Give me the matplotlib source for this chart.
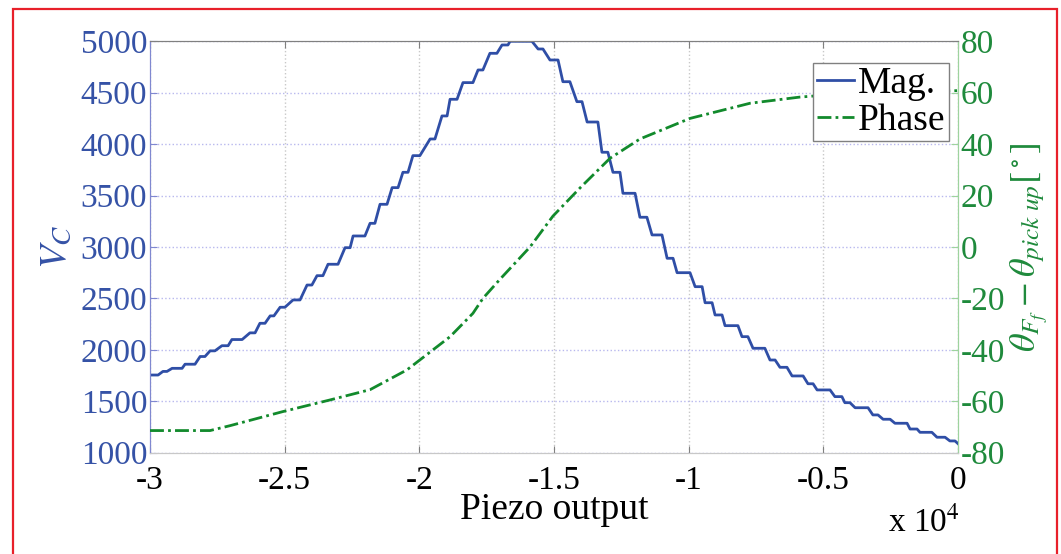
import matplotlib
matplotlib.use("Agg")
from matplotlib import pyplot as plt
from matplotlib.patches import Rectangle
import numpy as np

# magnitude: staircase plateaus (start, end in units of 1e4, level)
mag_start = [-3.000, -2.952, -2.918, -2.870, -2.814, -2.777, -2.733, -2.696, -2.629, -2.592,
             -2.554, -2.517, -2.469, -2.417, -2.380, -2.339, -2.276, -2.246, -2.183, -2.146,
             -2.101, -2.061, -2.024, -1.960, -1.916, -1.886, -1.838, -1.782, -1.738, -1.693,
             -1.663, -1.559, -1.515, -1.467, -1.415, -1.377, -1.322, -1.281, -1.244, -1.181,
             -1.136, -1.080, -1.043, -0.976, -0.939, -0.902, -0.865, -0.802, -0.761, -0.698,
             -0.661, -0.616, -0.557, -0.523, -0.457, -0.420, -0.382, -0.316, -0.278, -0.234,
             -0.178, -0.141, -0.078, -0.030]
mag_end = [-2.970, -2.937, -2.881, -2.833, -2.796, -2.759, -2.710, -2.658, -2.610, -2.573,
           -2.540, -2.499, -2.443, -2.399, -2.358, -2.302, -2.257, -2.202, -2.165, -2.120,
           -2.079, -2.042, -1.998, -1.942, -1.897, -1.860, -1.801, -1.764, -1.712, -1.671,
           -1.582, -1.541, -1.485, -1.441, -1.396, -1.337, -1.300, -1.255, -1.199, -1.155,
           -1.099, -1.058, -0.995, -0.950, -0.913, -0.876, -0.817, -0.780, -0.717, -0.679,
           -0.635, -0.575, -0.538, -0.475, -0.431, -0.401, -0.334, -0.297, -0.252, -0.189,
           -0.152, -0.097, -0.048, -0.011]
mag_level = [1755, 1790, 1820, 1860, 1935, 1990, 2040, 2100, 2165, 2258,
             2330, 2414, 2485, 2630, 2721, 2832, 2993, 3107, 3230, 3415,
             3577, 3726, 3888, 4050, 4274, 4436, 4598, 4721, 4883, 4964,
             5000, 4925, 4818, 4607, 4413, 4215, 3921, 3726, 3522, 3289,
             3117, 2890, 2750, 2614, 2458, 2339, 2235, 2128, 2015, 1901,
             1830, 1746, 1670, 1610, 1545, 1486, 1437, 1367, 1325, 1286,
             1230, 1198, 1150, 1114]
mag_x_end, mag_y_end = 0.0, 1088

# phase
phase_x = [-3.000, -2.777, -2.703, -2.506, -2.332, -2.183, -2.046, -1.886, -1.801, -1.764,
           -1.700, -1.589, -1.504, -1.403, -1.292, -1.181, -0.995, -0.772, -0.587, -0.486,
           -0.290, 0.000]
phase_y = [-71.4, -71.4, -69.5, -64.0, -59.5, -55.5, -47.8, -34.9, -25.8, -20.0,
           -12.5, 0.0, 12.0, 23.0, 34.5, 42.0, 50.0, 55.9, 58.3, 59.1,
           60.0, 60.8]

xticks = [-3, -2.5, -2, -1.5, -1, -0.5, 0]
xticklabels = ['-3', '-2.5', '-2', '-1.5', '-1', '-0.5', '0']
left_ticks = [1000, 1500, 2000, 2500, 3000, 3500, 4000, 4500, 5000]
right_ticks = [-80, -60, -40, -20, 0, 20, 40, 60, 80]

plt.rcParams['font.family'] = ['Liberation Serif', 'DejaVu Serif']
plt.rcParams['mathtext.fontset'] = 'stix'
plt.rcParams['axes.unicode_minus'] = False

blue = '#2f4ea6'
blue_txt = '#3552a6'
green = '#128a2c'
green_txt = '#1f8a3c'

fig = plt.figure(figsize=(10.61, 5.54), dpi=100)
fig.patches.append(Rectangle((13 / 1061, -0.1), 1044 / 1061, 1.1 - 9 / 554,
                             transform=fig.transFigure, fill=False,
                             edgecolor='#e8202a', linewidth=1.6, zorder=10))

ax = fig.add_axes([0.1414, 0.1829, 0.7615, 0.7426])
ax2 = ax.twinx()

# build staircase vertices
mx, my = [], []
for s, e, v in zip(mag_start, mag_end, mag_level):
    mx += [s, e]
    my += [v, v]
mx.append(mag_x_end)
my.append(mag_y_end)

l1, = ax.plot(mx, my, color=blue, lw=2.0, label='Mag.', zorder=3)
l2, = ax2.plot(phase_x, phase_y, color=green, lw=2.0, ls=(0, (5, 1.5, 1, 1.5)),
               label='Phase', zorder=3)

ax.set_xlim(-3, 0)
ax.set_ylim(1000, 5000)
ax2.set_ylim(-80, 80)

ax.set_xticks(xticks)
ax.set_xticklabels(xticklabels)
ax.set_yticks(left_ticks)
ax2.set_yticks(right_ticks)

ax.tick_params(axis='x', direction='in', length=5, color='#808080', labelsize=24,
               pad=9, top=True, labelcolor='black')
ax.tick_params(axis='y', direction='in', length=5, color='#8088d0', labelsize=24,
               pad=2, labelcolor=blue_txt)
ax2.tick_params(axis='y', direction='in', length=5, color='#9ed39e', labelsize=24,
                pad=2, labelcolor=green_txt)

ax.yaxis.grid(True, color='#b8b8ee', ls=':', lw=1.0)
ax.xaxis.grid(True, color='#c8c8c8', ls=':', lw=1.0)

for a in (ax, ax2):
    a.spines['top'].set_color('#808080')
    a.spines['bottom'].set_color('#c8c8c8')
    a.spines['left'].set_color('#8088d0')
    a.spines['right'].set_color('#9ed39e')

ax.set_xlabel('Piezo output', fontsize=27, labelpad=-2)
ax.set_ylabel('$V_C$', fontsize=28, color=blue_txt, labelpad=4)
ax2.set_ylabel(r'$\theta_{F_f}-\theta_{pick\ up}[^\circ]$', fontsize=26,
               color=green_txt, labelpad=2)

fig.text(0.905, 0.058, r'x 10$^4$', fontsize=24, ha='right', va='center')

leg = ax2.legend(handles=[l1, l2], loc='upper right', bbox_to_anchor=(0.989, 0.947),
                 fontsize=27, frameon=True, fancybox=False, framealpha=1.0,
                 handlelength=1.0, handletextpad=0.1, borderpad=0.1,
                 labelspacing=0.05, borderaxespad=0)
leg.get_frame().set_edgecolor('#808080')
leg.get_frame().set_linewidth(1.0)

fig.savefig('out.png', dpi=100)
